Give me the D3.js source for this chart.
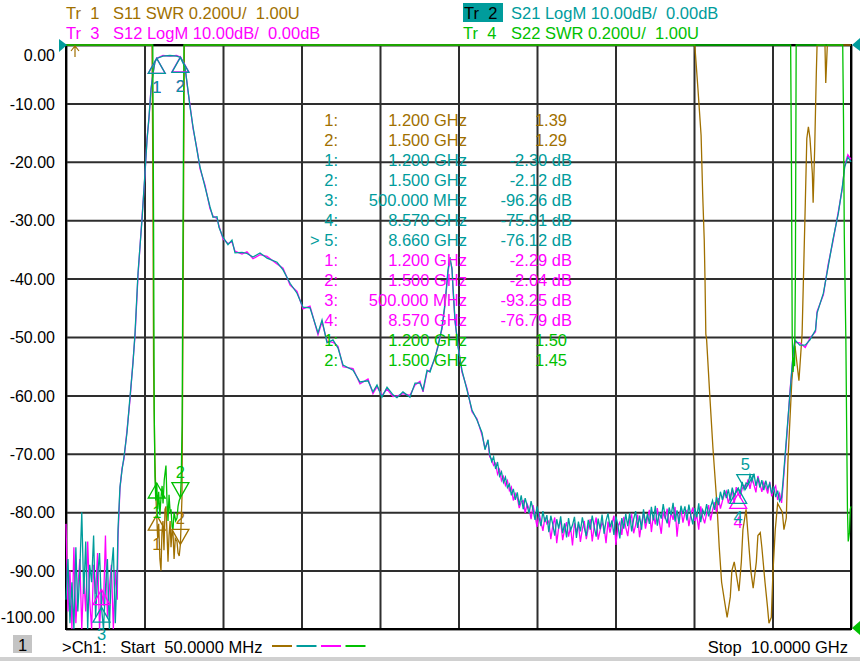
<!DOCTYPE html>
<html>
<head>
<meta charset="utf-8">
<script src="https://cdn.jsdelivr.net/npm/d3@7"></script>
<style>
  body { margin: 0; background: #fff; }
  svg { display: block; }
  text { font-family: "Liberation Sans", Arial, sans-serif; font-size: 16.5px; white-space: pre; }
</style>
</head>
<body>
<div id="chart"></div>
<script>
// sweep 50 MHz .. 10 GHz, frequencies in GHz
let fStart = 0.05, fStop = 10;

// noisy low-frequency floor, sampled every 25 MHz from 50 MHz
let lowStart = 0.05, lowStep = 0.025;
let s21Low = [-95, -88, -99, -92, -103, -86, -97, -90, -80, -94,
              -85, -101, -89, -92, -84, -98, -91, -87, -96.3, -104,
              -93, -88, -102, -90, -86, -99, -89];
let s12Low = [-82, -97, -90, -104, -86, -99, -93, -88, -101, -91,
              -97, -85, -95, -103, -89, -94, -87, -100, -93.3, -96,
              -84, -98, -93, -89, -102, -90, -95];

// passband and upper skirt [GHz, dB]
let s21Band = [[0.709,-83.0],[0.734,-75.7],[0.760,-72.8],[0.785,-70.5],[0.823,-66.4],[0.861,-60.3],[0.899,-54.5],[0.925,-49.3],
  [0.963,-39.0],[1.013,-30.0],[1.051,-21.9],[1.077,-16.3],[1.102,-12.3],[1.127,-7.7],[1.153,-4.8],[1.178,-2.9],[1.200,-2.3],
  [1.279,-1.9],[1.368,-1.8],[1.450,-1.9],[1.500,-2.12],[1.558,-3.8],[1.596,-7.7],[1.622,-10.6],[1.660,-14.0],[1.710,-18.0],
  [1.749,-20.9],[1.812,-24.3],[1.875,-27.7],[1.913,-29.5],[1.964,-29.4],[1.989,-31.2],[2.040,-32.9],[2.103,-34.2],[2.154,-33.4],
  [2.192,-35.6],[2.281,-35.5],[2.344,-35.7],[2.420,-36.3],[2.509,-35.6],[2.598,-36.5],[2.725,-37.2],[2.801,-38.5],[2.890,-40.8],
  [2.978,-42.5],[3.054,-44.9],[3.143,-45.0],[3.244,-49.3],[3.295,-47.1],[3.358,-51.0],[3.434,-50.5],[3.498,-51.9],[3.561,-54.8],
  [3.688,-55.7],[3.776,-57.7],[3.878,-57.5],[3.941,-59.4],[3.992,-58.2],[4.055,-60.3],[4.119,-58.6],[4.195,-59.9],[4.245,-60.4],
  [4.321,-59.4],[4.410,-60.3],[4.474,-57.9],[4.537,-57.9],[4.575,-59.1],[4.626,-55.7],[4.664,-56.0],[4.727,-53.4],[4.765,-51.7],
  [4.816,-48.3],[4.854,-44.2],[4.892,-38.5],[4.917,-36.3],[4.943,-38.5],[4.955,-41.4],[4.981,-47.1],[5.019,-51.7],[5.069,-55.7],
  [5.133,-59.1],[5.196,-62.5],[5.259,-64.2],[5.323,-66.4],[5.361,-69.3],[5.399,-67.6]];
let s12Band = [[0.709,-84.5],[0.734,-76.0],[0.760,-72.5],[0.785,-70.9],[0.823,-66.0],[0.861,-60.8],[0.899,-54.2],[0.925,-49.8],
  [0.963,-39.4],[1.013,-29.6],[1.051,-22.3],[1.077,-16.0],[1.102,-12.6],[1.127,-7.5],[1.153,-5.0],[1.178,-2.8],[1.200,-2.29],
  [1.279,-1.8],[1.368,-1.9],[1.450,-1.8],[1.500,-2.04],[1.558,-3.6],[1.596,-7.9],[1.622,-10.3],[1.660,-14.3],[1.710,-17.8],
  [1.749,-21.2],[1.812,-24.0],[1.875,-28.0],[1.913,-29.3],[1.964,-29.7],[1.989,-31.0],[2.040,-33.2],[2.103,-34.0],[2.154,-33.7],
  [2.192,-35.3],[2.281,-35.8],[2.344,-35.4],[2.420,-36.6],[2.509,-35.9],[2.598,-36.2],[2.725,-37.5],[2.801,-38.2],[2.890,-41.1],
  [2.978,-42.2],[3.054,-45.2],[3.143,-44.7],[3.244,-49.6],[3.295,-47.4],[3.358,-50.7],[3.434,-50.9],[3.498,-51.6],[3.561,-55.1],
  [3.688,-55.4],[3.776,-58.0],[3.878,-57.2],[3.941,-59.7],[3.992,-58.5],[4.055,-60.0],[4.119,-58.9],[4.195,-60.2],[4.245,-60.1],
  [4.321,-59.7],[4.410,-60.0],[4.474,-58.2],[4.537,-57.6],[4.575,-59.4],[4.626,-56.0],[4.664,-55.7],[4.727,-53.7],[4.765,-51.4],
  [4.816,-48.6],[4.854,-44.6],[4.892,-38.9],[4.917,-36.8],[4.943,-38.2],[4.955,-41.8],[4.981,-47.4],[5.019,-51.4],[5.069,-56.0],
  [5.133,-58.8],[5.196,-62.8],[5.259,-64.0],[5.323,-66.8],[5.361,-69.0],[5.399,-67.9]];

// noisy stopband, sampled every 25 MHz from 5.42 GHz (rows of 250 MHz)
let highStart = 5.42, highStep = 0.025;
let s21High = [
  -70.0, -71.3, -70.5, -72.6, -71.4, -73.8, -73.1, -74.9, -74.0, -75.8,
  -75.2, -77.1, -76.0, -77.9, -76.6, -78.8, -77.1, -79.5, -77.6, -78.9,
  -80.2, -78.1, -79.6, -81.3, -79.0, -80.9, -82.4, -79.8, -81.7, -80.5,
  -83.4, -80.6, -82.1, -84.0, -81.2, -82.8, -80.7, -83.6, -81.9, -84.3,
  -81.0, -83.1, -82.2, -80.8, -84.4, -81.6, -83.3, -80.9, -82.7, -84.1,
  -81.3, -83.0, -80.6, -82.5, -84.2, -81.1, -82.9, -80.4, -83.7, -81.5,
  -80.2, -82.6, -81.4, -83.9, -80.7, -82.2, -84.5, -81.0, -82.8, -80.3,
  -82.4, -80.1, -83.3, -81.2, -79.8, -82.7, -80.6, -83.0, -79.5, -81.9,
  -80.3, -82.0, -79.1, -81.4, -78.9, -82.3, -80.0, -81.1, -78.6, -80.8,
  -81.9, -79.2, -80.5, -78.4, -81.6, -79.7, -82.0, -78.9, -80.3, -79.0,
  -81.4, -78.7, -80.6, -82.1, -79.3, -80.9, -78.5, -81.7, -79.6, -80.4,
  -78.6, -80.7, -79.1, -78.0, -79.6, -77.4, -78.8, -76.5, -77.9, -76.2,
  -77.6, -76.1, -78.0, -75.8, -77.2, -76.4, -75.9, -76.9, -74.8, -76.1,
  -75.0, -75.2, -73.6, -74.7, -73.4, -75.5, -74.1, -75.8, -74.5, -76.2,
  -74.6, -76.0, -75.1, -76.8, -75.6, -77.4, -76.3, -78.1, -77.5];
let s12High = [
  -70.5, -70.9, -72.0, -71.6, -73.5, -72.7, -74.6, -73.9, -75.4, -74.6,
  -76.3, -75.7, -78.0, -76.8, -77.5, -79.3, -78.2, -78.0, -80.1, -78.6,
  -79.4, -81.2, -78.8, -80.6, -82.5, -80.1, -81.6, -83.2, -80.9, -82.0,
  -81.5, -84.6, -82.3, -80.9, -85.3, -82.6, -81.4, -84.8, -83.0, -81.7,
  -84.2, -82.5, -85.7, -81.8, -83.4, -82.0, -85.1, -82.9, -81.5, -84.6,
  -82.7, -81.2, -85.0, -82.4, -80.9, -84.7, -83.1, -81.8, -82.5, -85.3,
  -81.6, -83.5, -82.0, -80.6, -85.6, -82.4, -81.7, -83.9, -80.8, -82.6,
  -84.1, -81.3, -80.5, -83.6, -82.2, -80.4, -84.3, -81.9, -80.2, -82.8,
  -81.0, -79.6, -83.4, -80.5, -82.1, -79.3, -81.6, -83.7, -79.9, -81.2,
  -79.4, -82.6, -80.0, -81.3, -79.1, -84.2, -80.6, -79.5, -81.8, -80.1,
  -79.7, -82.4, -80.3, -79.2, -81.5, -80.6, -83.0, -79.0, -80.8, -81.9,
  -80.2, -78.8, -81.4, -79.7, -78.3, -80.0, -77.6, -79.4, -78.1, -77.0,
  -76.4, -78.5, -77.2, -76.1, -78.6, -75.7, -76.8, -77.5, -76.0, -75.4,
  -75.8, -74.4, -76.0, -74.1, -75.3, -76.6, -73.8, -75.1, -76.5, -74.9,
  -75.7, -76.8, -74.8, -77.3, -76.1, -75.5, -77.9, -76.8, -78.4];

// rise to the upper edge [GHz, dB]
let s21Tail = [[9.14,-74.5],[9.19,-65.9],[9.23,-59.1],[9.27,-52.2],[9.29,-50.5],[9.35,-51.4],[9.42,-51.4],[9.48,-50.5],
  [9.55,-48.8],[9.57,-45.9],[9.65,-42.5],[9.71,-38.0],[9.77,-33.4],[9.84,-28.8],[9.89,-24.3],[9.92,-20.9],[9.96,-19.2],[10.0,-20.0]];
let s12Tail = [[9.14,-75.2],[9.19,-66.3],[9.23,-58.7],[9.27,-52.6],[9.29,-50.9],[9.35,-51.0],[9.42,-51.8],[9.48,-50.2],
  [9.55,-49.1],[9.57,-45.6],[9.65,-42.8],[9.71,-37.6],[9.77,-33.7],[9.84,-28.5],[9.89,-24.6],[9.92,-20.6],[9.96,-18.8],[10.0,-19.6]];

// SWR traces [GHz, U]; 3.6 means off the top of the screen
let s11Swr = [[0.05,3.6],[1.140,3.6],[1.150,2.6],[1.160,1.9],[1.175,1.6],[1.190,1.45],[1.200,1.39],[1.212,1.31],[1.225,1.36],
  [1.240,1.24],[1.254,1.20],[1.266,1.33],[1.279,1.37],[1.292,1.27],[1.305,1.41],[1.317,1.42],[1.330,1.33],[1.343,1.23],
  [1.356,1.32],[1.370,1.37],[1.381,1.28],[1.395,1.34],[1.406,1.33],[1.420,1.24],[1.435,1.31],[1.457,1.30],[1.470,1.26],
  [1.485,1.25],[1.500,1.29],[1.510,1.37],[1.520,1.45],[1.530,1.9],[1.540,2.45],[1.550,3.6],
  [8.02,3.6],[8.06,2.85],[8.10,2.69],[8.12,2.49],[8.14,2.33],[8.15,2.19],[8.16,2.01],[8.17,1.99],[8.21,1.80],[8.25,1.62],
  [8.30,1.43],[8.33,1.28],[8.36,1.16],[8.40,1.09],[8.43,1.04],[8.47,1.11],[8.49,1.20],[8.52,1.23],[8.55,1.18],[8.58,1.13],
  [8.61,1.23],[8.63,1.34],[8.67,1.41],[8.69,1.34],[8.73,1.20],[8.76,1.14],[8.80,1.23],[8.82,1.32],[8.85,1.33],[8.87,1.28],
  [8.91,1.16],[8.94,1.08],[8.96,1.02],[8.99,1.04],[9.01,1.19],[9.04,1.34],[9.07,1.43],[9.13,1.40],[9.15,1.34],[9.18,1.38],
  [9.20,1.57],[9.25,1.85],[9.29,1.97],[9.34,1.85],[9.38,2.01],[9.42,2.45],[9.44,2.68],[9.46,2.72],[9.48,2.68],[9.51,2.56],
  [9.52,2.46],[9.54,2.65],[9.56,2.90],[9.57,3.6],[9.67,3.6],[9.68,2.87],[9.70,3.6],[10.0,3.6]];
let s22Swr = [[0.05,3.6],[1.150,3.6],[1.160,2.4],[1.168,1.75],[1.178,1.52],[1.188,1.44],[1.200,1.50],[1.212,1.41],[1.225,1.47],
  [1.240,1.39],[1.254,1.45],[1.268,1.49],[1.280,1.43],[1.295,1.51],[1.317,1.56],[1.330,1.44],[1.343,1.37],[1.356,1.46],
  [1.370,1.40],[1.381,1.41],[1.395,1.35],[1.406,1.34],[1.420,1.40],[1.440,1.37],[1.457,1.38],[1.470,1.42],[1.485,1.44],
  [1.500,1.45],[1.510,1.51],[1.522,1.7],[1.532,2.3],[1.545,3.6],
  [9.235,3.6],[9.245,2.6],[9.255,2.0],[9.265,1.88],[9.275,1.93],[9.285,1.90],[9.295,2.2],[9.305,3.6],
  [9.895,3.6],[9.905,2.75],[9.915,2.35],[9.935,1.99],[9.945,1.69],[9.955,1.41],[9.965,1.30],[9.980,1.33],[9.990,1.41],[10.0,1.42]];

// markers [number, GHz, value]
let s11Markers = [[1, 1.2, 1.39], [2, 1.5, 1.29]];
let s21Markers = [[1, 1.2, -2.30], [2, 1.5, -2.12], [3, 0.5, -96.26], [4, 8.57, -75.91], [5, 8.66, -76.12]];
let s12Markers = [[1, 1.2, -2.29], [2, 1.5, -2.04], [3, 0.5, -93.25], [4, 8.57, -76.79]];
let s22Markers = [[1, 1.2, 1.50], [2, 1.5, 1.45]];

// marker readout table
let tableTrace = [1, 1, 2, 2, 2, 2, 2, 3, 3, 3, 3, 4, 4];
let tableIdx = ["1:", "2:", "1:", "2:", "3:", "4:", "> 5:", "1:", "2:", "3:", "4:", "1:", "2:"];
let tableFreq = ["1.200 GHz", "1.500 GHz", "1.200 GHz", "1.500 GHz", "500.000 MHz", "8.570 GHz", "8.660 GHz",
                 "1.200 GHz", "1.500 GHz", "500.000 MHz", "8.570 GHz", "1.200 GHz", "1.500 GHz"];
let tableVal = ["1.39", "1.29", "-2.30 dB", "-2.12 dB", "-96.26 dB", "-75.91 dB", "-76.12 dB",
                "-2.29 dB", "-2.04 dB", "-93.25 dB", "-76.79 dB", "1.50", "1.45"];

let dbTicks = [0, -10, -20, -30, -40, -50, -60, -70, -80, -90, -100];

let colors = {1: "#a07000", 2: "#009c9c", 3: "#ff00ff", 4: "#00c000"};

function grid(start, step, values) {
    return values.map((v, i) => [start + i * step, v]);
}

let s21 = grid(lowStart, lowStep, s21Low).concat(s21Band, grid(highStart, highStep, s21High), s21Tail);
let s12 = grid(lowStart, lowStep, s12Low).concat(s12Band, grid(highStart, highStep, s12High), s12Tail);

let margin = {top: 45, left: 66, right: 9, bottom: 32},
    width = 860 - margin.left - margin.right,
    height = 661 - margin.top - margin.bottom;

let svg = d3.select("#chart").append("svg")
    .attr("width", 860)
    .attr("height", 661);

let x = d3.scaleLinear().domain([fStart, fStop]).range([margin.left, margin.left + width]);
let yDb = d3.scaleLinear().domain([-100, 0]).range([margin.top + height, margin.top]).clamp(true);
let ySwr = d3.scaleLinear().domain([1, 3]).range([margin.top + height, margin.top]).clamp(true);

// grid
let divs = d3.range(11).map(i => fStart + i * (fStop - fStart) / 10);
svg.append("g")
    .attr("transform", "translate(0," + (margin.top + height) + ")")
    .call(d3.axisBottom(x).tickValues(divs).tickSize(-height).tickFormat(""))
    .call(g => g.select(".domain").remove())
    .call(g => g.selectAll("line").attr("stroke", "#2e2e2e").attr("stroke-width", 2));
svg.append("g")
    .attr("transform", "translate(" + margin.left + ",0)")
    .call(d3.axisLeft(yDb).tickValues(dbTicks).tickSize(-width).tickFormat(""))
    .call(g => g.select(".domain").remove())
    .call(g => g.selectAll("line").attr("stroke", "#2e2e2e").attr("stroke-width", 2));
svg.append("rect")
    .attr("x", margin.left).attr("y", margin.top)
    .attr("width", width).attr("height", height)
    .attr("fill", "none").attr("stroke", "#000").attr("stroke-width", 2);

// y labels
svg.append("g")
    .attr("transform", "translate(" + margin.left + ",0)")
    .call(d3.axisLeft(yDb).tickValues(dbTicks).tickSize(0).tickPadding(11).tickFormat(d => d.toFixed(2)))
    .call(g => g.select(".domain").remove())
    .call(g => g.selectAll("text")
        .attr("fill", "#000")
        .style("font-size", "16px")
        .style("font-family", "'Liberation Sans', Arial, sans-serif")
        .attr("dy", d => d === 0 ? "0.95em" : d === -100 ? "-0.38em" : "0.36em"));

// traces
let lineDb = d3.line().x(d => x(d[0])).y(d => yDb(d[1]));
let lineSwr = d3.line().x(d => x(d[0])).y(d => ySwr(d[1]));

svg.append("path").datum(s11Swr).attr("d", lineSwr)
    .attr("fill", "none").attr("stroke", colors[1]).attr("stroke-width", 1.3);
svg.append("path").datum(s12).attr("d", lineDb)
    .attr("fill", "none").attr("stroke", colors[3]).attr("stroke-width", 1.3);
svg.append("path").datum(s21).attr("d", lineDb)
    .attr("fill", "none").attr("stroke", colors[2]).attr("stroke-width", 1.3);
svg.append("path").datum(s22Swr).attr("d", lineSwr)
    .attr("fill", "none").attr("stroke", colors[4]).attr("stroke-width", 1.3);

// markers: "up" = triangle below the point with number under it, "down" = triangle above
function drawMarkers(list, yScale, color, downSet, noLabel) {
    let g = svg.append("g");
    list.forEach(m => {
        let px = x(m[1]), py = yScale(m[2]);
        let down = downSet.includes(m[0]);
        let s = down ? -1 : 1;
        g.append("path")
            .attr("d", "M" + px + "," + py + "L" + (px - 8.5) + "," + (py + s * 15) + "L" + (px + 8.5) + "," + (py + s * 15) + "Z")
            .attr("fill", "none").attr("stroke", color).attr("stroke-width", 1.3);
        if (noLabel.includes(m[0])) return;
        g.append("text")
            .attr("x", px).attr("y", down ? py - 20 : Math.min(py + 35, 640))
            .attr("text-anchor", "middle")
            .attr("fill", color)
            .text(m[0]);
    });
}
drawMarkers(s11Markers, ySwr, colors[1], [2], []);
drawMarkers(s12Markers, yDb, colors[3], [], [3]);
drawMarkers(s21Markers, yDb, colors[2], [5], []);
drawMarkers(s22Markers, ySwr, colors[4], [2], []);

// reference arrows
svg.append("path").attr("d", "M59,39 L67,45 L59,52 Z").attr("fill", colors[2]);
svg.append("path").attr("d", "M852,45 L860,38 L860,51 Z").attr("fill", colors[2]);
svg.append("path").attr("d", "M852,628 L860,621 L860,635 Z").attr("fill", colors[4]);
svg.append("path").attr("d", "M75,57 L75,47 M71,51 L75,46 L79,51")
    .attr("fill", "none").attr("stroke", colors[1]).attr("stroke-width", 1.2);

// marker table
let table = svg.append("g");
tableIdx.forEach((t, i) => {
    let yy = 126 + i * 20;
    let c = colors[tableTrace[i]];
    table.append("text").attr("x", 338).attr("y", yy).attr("text-anchor", "end").attr("fill", c).text(t);
    table.append("text").attr("x", 467).attr("y", yy).attr("text-anchor", "end").attr("fill", c).text(tableFreq[i]);
    table.append("text").attr("x", tableVal[i].endsWith("dB") ? 572 : 567).attr("y", yy)
        .attr("text-anchor", "end").attr("fill", c).text(tableVal[i]);
});

// header
svg.append("text").attr("x", 66).attr("y", 19).attr("fill", colors[1]).text("Tr  1");
svg.append("text").attr("x", 113).attr("y", 19).attr("fill", colors[1]).text("S11 SWR 0.200U/  1.00U");
svg.append("text").attr("x", 66).attr("y", 39).attr("fill", colors[3]).text("Tr  3");
svg.append("text").attr("x", 113).attr("y", 39).attr("fill", colors[3]).text("S12 LogM 10.00dB/  0.00dB");
svg.append("rect").attr("x", 463).attr("y", 3).attr("width", 40).attr("height", 19).attr("fill", colors[2]);
svg.append("text").attr("x", 464).attr("y", 19).attr("fill", "#000").text("Tr  2");
svg.append("text").attr("x", 511).attr("y", 19).attr("fill", colors[2]).text("S21 LogM 10.00dB/  0.00dB");
svg.append("text").attr("x", 463).attr("y", 39).attr("fill", colors[4]).text("Tr  4");
svg.append("text").attr("x", 511).attr("y", 39).attr("fill", colors[4]).text("S22 SWR 0.200U/  1.00U");

// footer
svg.append("rect").attr("x", 13).attr("y", 635).attr("width", 19).attr("height", 18).attr("fill", "#c4c4c4");
svg.append("text").attr("x", 22.5).attr("y", 651).attr("text-anchor", "middle").attr("fill", "#000").text("1");
svg.append("text").attr("x", 62).attr("y", 653).attr("fill", "#000").text(">Ch1:   Start  50.0000 MHz");
[1, 2, 3, 4].forEach((k, i) => {
    svg.append("line")
        .attr("x1", 272 + i * 24.5).attr("x2", 292 + i * 24.5)
        .attr("y1", 646).attr("y2", 646)
        .attr("stroke", colors[k]).attr("stroke-width", 2);
});
svg.append("text").attr("x", 848).attr("y", 653).attr("text-anchor", "end").attr("fill", "#000").text("Stop  10.0000 GHz");
svg.append("rect").attr("x", 0).attr("y", 657).attr("width", 860).attr("height", 4).attr("fill", "#d0d0d0");
</script>
</body>
</html>
